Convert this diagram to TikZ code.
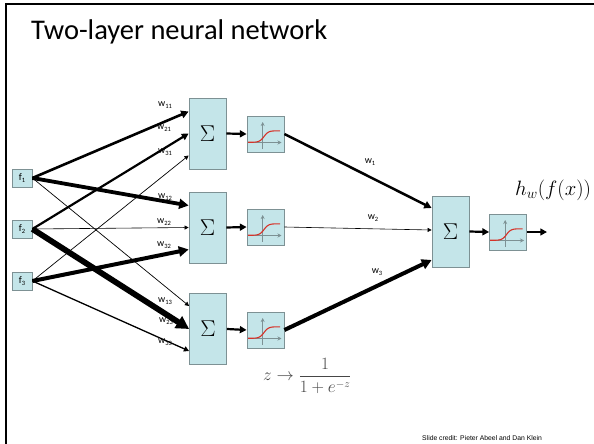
\documentclass[tikz,border=0pt]{standalone}
\usepackage{fontspec}
\setmainfont{Carlito}
\newfontfamily\arialf{Liberation Sans}
\usetikzlibrary{arrows.meta,calc}
\definecolor{boxfill}{RGB}{196,229,233}
\definecolor{boxdraw}{RGB}{125,145,148}
\definecolor{sigred}{RGB}{215,50,40}
\definecolor{formgray}{RGB}{70,70,70}
\tikzset{
  box/.style={draw=boxdraw, fill=boxfill, line width=0.8pt, inner sep=0pt},
  sumbox/.style={box, minimum width=37pt, minimum height=71pt, font=\fontsize{24.88}{25}\selectfont},
  sigbox/.style={box, minimum width=37pt, minimum height=36pt,
    path picture={
      \begin{scope}[shift={(path picture bounding box.center)}]
        \draw[line width=0.8pt, -{Stealth[length=4pt,width=4pt]}] (-18,8.5) -- (16,8.5);
        \draw[line width=0.8pt, -{Stealth[length=4pt,width=4pt]}] (-2.8,14.5) -- (-2.8,-12);
        \draw[sigred, line width=1.1pt] plot[domain=-18:14.5, samples=40, smooth] (\x,{8.3-11.5/(1+exp(-(\x+1.5)/2.2))});
      \end{scope}
    }},
  inbox/.style={box, minimum width=20pt, minimum height=18pt, font=\fontsize{10}{10}\selectfont},
  wt/.style={line width=#1pt, -{Triangle[length=3pt 1.7,width=3pt 1.8]}},
  wlabel/.style={font=\fontsize{10}{10}\selectfont, inner sep=0pt},
}
\newcommand{\wsub}[1]{w{\fontsize{6.5}{6.5}\selectfont\raisebox{-2pt}{#1}}}
\newcommand{\fsub}[1]{f{\fontsize{6.5}{6.5}\selectfont\raisebox{-2pt}{#1}}}
\newcommand{\bigsigma}{\scalebox{0.92}{$\Sigma$}}
\begin{document}
\begin{tikzpicture}[x=1pt,y=-1pt]
\useasboundingbox (0,0) rectangle (594,444);
\clip (0,0) rectangle (594,444);
\fill[white] (0,0) rectangle (594,444);
\draw[line width=2pt] (6,470) -- (6,4) -- (620,4);

\node[anchor=base west, font=\fontsize{28.5}{28.5}\selectfont, inner sep=0pt] (title) at (31,39.5) {Two-layer neural network};

% inputs
\node[inbox] (f1) at (22,178) {\fsub{1}};
\node[inbox] (f2) at (22,229) {\fsub{2}};
\node[inbox] (f3) at (22,281) {\fsub{3}};

% hidden sums
\node[sumbox] (s1) at (207.5,133.5) {\bigsigma};
\node[sumbox] (s2) at (207.5,227.5) {\bigsigma};
\node[sumbox] (s3) at (208,329) {\bigsigma};

% hidden sigmoids
\node[sigbox] (g1) at (265.5,134) {};
\node[sigbox] (g2) at (265.5,227) {};
\node[sigbox] (g3) at (265.5,330) {};

% output
\node[sumbox] (so) at (450.5,231.5) {\bigsigma};
\node[sigbox] (go) at (508,232) {};
\coordinate (hend) at (547,232);

% input -> hidden
\draw[wt=2.6] (f1.east) -- ([yshift=22pt]s1.west);
\draw[wt=2.2] (f2.east) -- (s1.west);
\draw[wt=0.7] (f3.east) -- ([yshift=-22pt]s1.west);
\draw[wt=3.8] (f1.east) -- ([yshift=22pt]s2.west);
\draw[wt=0.6] (f2.east) -- (s2.west);
\draw[wt=4.0] (f3.east) -- ([yshift=-22pt]s2.west);
\draw[wt=0.7] (f1.east) -- ([yshift=23pt]s3.west);
\draw[wt=5.8] (f2.east) -- (s3.west);
\draw[wt=1.3] (f3.east) -- ([yshift=-22pt]s3.west);

% weight labels
\node[wlabel] (l11) at (165,105) {\wsub{11}};
\node[wlabel] (l21) at (164,128) {\wsub{21}};
\node[wlabel] (l31) at (165,152) {\wsub{31}};
\node[wlabel] (l12) at (165,197) {\wsub{12}};
\node[wlabel] (l22) at (164,222) {\wsub{22}};
\node[wlabel] (l32) at (164,245) {\wsub{32}};
\node[wlabel] (l13) at (165,301) {\wsub{13}};
\node[wlabel] (l23) at (166,321) {\wsub{23}};
\node[wlabel] (l33) at (165,342) {\wsub{33}};

% sum -> sigmoid
\draw[wt=2.2] (s1.east) -- (g1.west);
\draw[wt=2.2] (s2.east) -- (g2.west);
\draw[wt=2.2] (s3.east) -- (g3.west);

% hidden -> output
\draw[wt=2.5] (g1.east) -- ([yshift=23.5pt]so.west);
\draw[wt=0.6] (g2.east) -- ([yshift=1.5pt]so.west);
\draw[wt=4.0] (g3.east) -- ([yshift=-28.5pt]so.west);
\node[wlabel] (w1) at (370,162) {\wsub{1}};
\node[wlabel] (w2) at (373,218) {\wsub{2}};
\node[wlabel] (w3) at (377,272) {\wsub{3}};

\draw[wt=2.2] (so.east) -- (go.west);
\draw[wt=2.2] (go.east) -- (hend);

\node[anchor=base west, inner sep=0pt, font=\fontsize{20}{20}\selectfont] (hw) at (515,195) {$h_w(f(x))$};

\node[anchor=west, inner sep=0pt, text=formgray, font=\fontsize{16}{16}\selectfont] (form) at (263,376) {$z\rightarrow{\displaystyle\frac{1}{1+e^{-z}}}$};

\node[anchor=base west, inner sep=0pt, font=\arialf\fontsize{6.8}{6.8}\selectfont] (credit) at (422,440) {Slide credit: Pieter Abeel and Dan Klein};
\end{tikzpicture}
\end{document}
